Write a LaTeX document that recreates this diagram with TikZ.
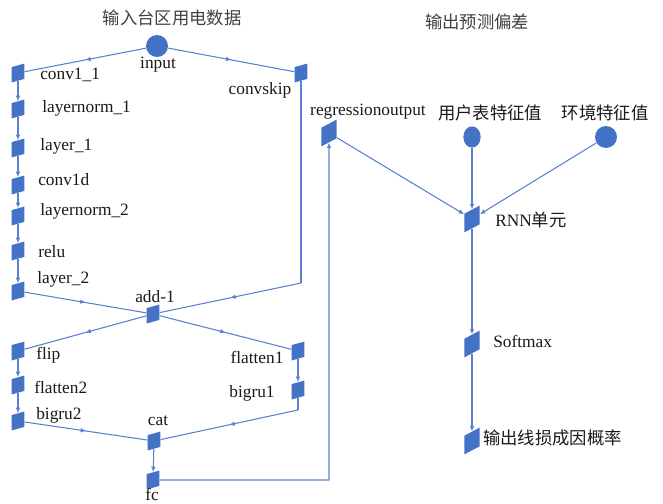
\documentclass[tikz,border=0pt]{standalone}
\usepackage{fontspec}
\setmainfont{Liberation Serif}
\newfontfamily\cjk{Noto Sans CJK SC}
\usetikzlibrary{arrows.meta,decorations.markings,shapes.geometric}
\definecolor{nblue}{HTML}{4472C4}
\definecolor{lblue}{HTML}{5A80CF}
\begin{document}
\begin{tikzpicture}[x=0.75pt,y=-0.75pt,
  sq/.style={fill=nblue, inner sep=0pt, minimum width=9.5pt, minimum height=11.5pt, yslant=0.28},
  bsq/.style={sq, minimum width=11.5pt, minimum height=14pt, yslant=0.25},
  dot/.style={circle, fill=nblue, inner sep=0pt, minimum size=16.5pt},
  edot/.style={ellipse, fill=nblue, inner sep=0pt, minimum width=13pt, minimum height=16pt},
  lbl/.style={font=\fontsize{13}{15}\selectfont, text=black!90, inner sep=0pt},
  ttl/.style={font=\cjk\fontsize{13}{15}\selectfont, text=black!75, inner sep=0pt},
  ln/.style={draw=lblue, line width=0.8pt},
  arr/.style={ln, -{Latex[length=4pt,width=3.5pt]}},
  mid/.style={ln, postaction={decorate}, decoration={markings, mark=at position 0.5 with {\arrow[lblue]{Latex[length=4pt,width=3.5pt]}}}}]
\path[use as bounding box] (0,0) rectangle (663,503);

% titles
\node[ttl] (t1) at (172,18) {输入台区用电数据};
\node[ttl] (t2) at (477,22) {输出预测偏差};

% left column
\node[dot] (in) at (157,46) {};
\node[sq] (c11) at (18,73) {};
\node[sq] (ln1) at (18,109) {};
\node[sq] (l1) at (18,148) {};
\node[sq] (c1d) at (18,185) {};
\node[sq] (ln2) at (18,216) {};
\node[sq] (relu) at (18,251) {};
\node[sq] (l2) at (18,291) {};
\node[sq] (cs) at (301,73) {};
\node[sq] (add) at (153,314) {};
\node[sq] (flip) at (18,351) {};
\node[sq] (fl1) at (298,351) {};
\node[sq] (fl2) at (18,385) {};
\node[sq] (bg1) at (298,390) {};
\node[sq] (bg2) at (18,421) {};
\node[sq] (cat) at (154,441) {};
\node[sq] (fc) at (153,480) {};

% right part
\node[bsq] (ro) at (329,133) {};
\node[edot] (u1) at (472,137) {};
\node[dot] (u2) at (606,137) {};
\node[bsq] (rnn) at (472,219) {};
\node[bsq] (sm) at (472,344) {};
\node[bsq] (out) at (472,441) {};

% labels
\node[lbl, anchor=west] (tc11) at (40,75) {conv1\_1};
\node[lbl, anchor=west] (tln1) at (42,108) {layernorm\_1};
\node[lbl, anchor=west] (tl1) at (40,146) {layer\_1};
\node[lbl, anchor=west] (tc1d) at (38,180) {conv1d};
\node[lbl, anchor=west] (tln2) at (40,211) {layernorm\_2};
\node[lbl, anchor=west] (trelu) at (38,252) {relu};
\node[lbl, anchor=west] (tl2) at (37,279) {layer\_2};
\node[lbl] (tin) at (158,65) {input};
\node[lbl] (tcs) at (260,90) {convskip};
\node[lbl] (tadd) at (155,297) {add-1};
\node[lbl, anchor=west] (tflip) at (36,355) {flip};
\node[lbl] (tfl1) at (257,357) {flatten1};
\node[lbl, anchor=west] (tfl2) at (34,387) {flatten2};
\node[lbl] (tbg1) at (252,393) {bigru1};
\node[lbl, anchor=west] (tbg2) at (36,415) {bigru2};
\node[lbl] (tcat) at (158,421) {cat};
\node[lbl] (tfc) at (152,494) {fc};
\node[lbl] (tro) at (368,112) {regressionoutput};
\node[ttl, text=black!90] (tu1) at (490,113) {用户表特征值};
\node[ttl, text=black!90] (tu2) at (605,113) {环境特征值};
\node[lbl, anchor=west] (trnn) at (495,220) {RNN{\cjk 单元}};
\node[lbl, anchor=west] (tsm) at (493,341) {Softmax};
\node[ttl, text=black!90, anchor=west] (tout) at (483,438) {输出线损成因概率};

% corner points
\coordinate (k1) at (301,283);
\coordinate (k2) at (298,410);
\coordinate (k3) at (ro |- fc);

% connectors
\draw[mid] (in) -- (c11);
\draw[mid] (in) -- (cs);
\draw[arr] (c11) -- (ln1);
\draw[arr] (ln1) -- (l1);
\draw[arr] (l1) -- (c1d);
\draw[arr] (c1d) -- (ln2);
\draw[arr] (ln2) -- (relu);
\draw[arr] (relu) -- (l2);
\draw[ln] (cs) -- (k1);
\draw[mid] (k1) -- (add);
\draw[mid] (l2) -- (add);
\draw[mid] (add) -- (flip);
\draw[mid] (add) -- (fl1);
\draw[arr] (flip) -- (fl2);
\draw[arr] (fl2) -- (bg2);
\draw[arr] (fl1) -- (bg1);
\draw[mid] (bg2) -- (cat);
\draw[ln] (bg1) -- (k2);
\draw[mid] (k2) -- (cat);
\draw[arr] (cat) -- (fc);
\draw[arr] (fc) -- (k3) -- (ro);
\draw[arr] (ro) -- (rnn);
\draw[arr] (u1) -- (rnn);
\draw[arr] (u2) -- (rnn);
\draw[arr] (rnn) -- (sm);
\draw[arr] (sm) -- (out);
\end{tikzpicture}
\end{document}
